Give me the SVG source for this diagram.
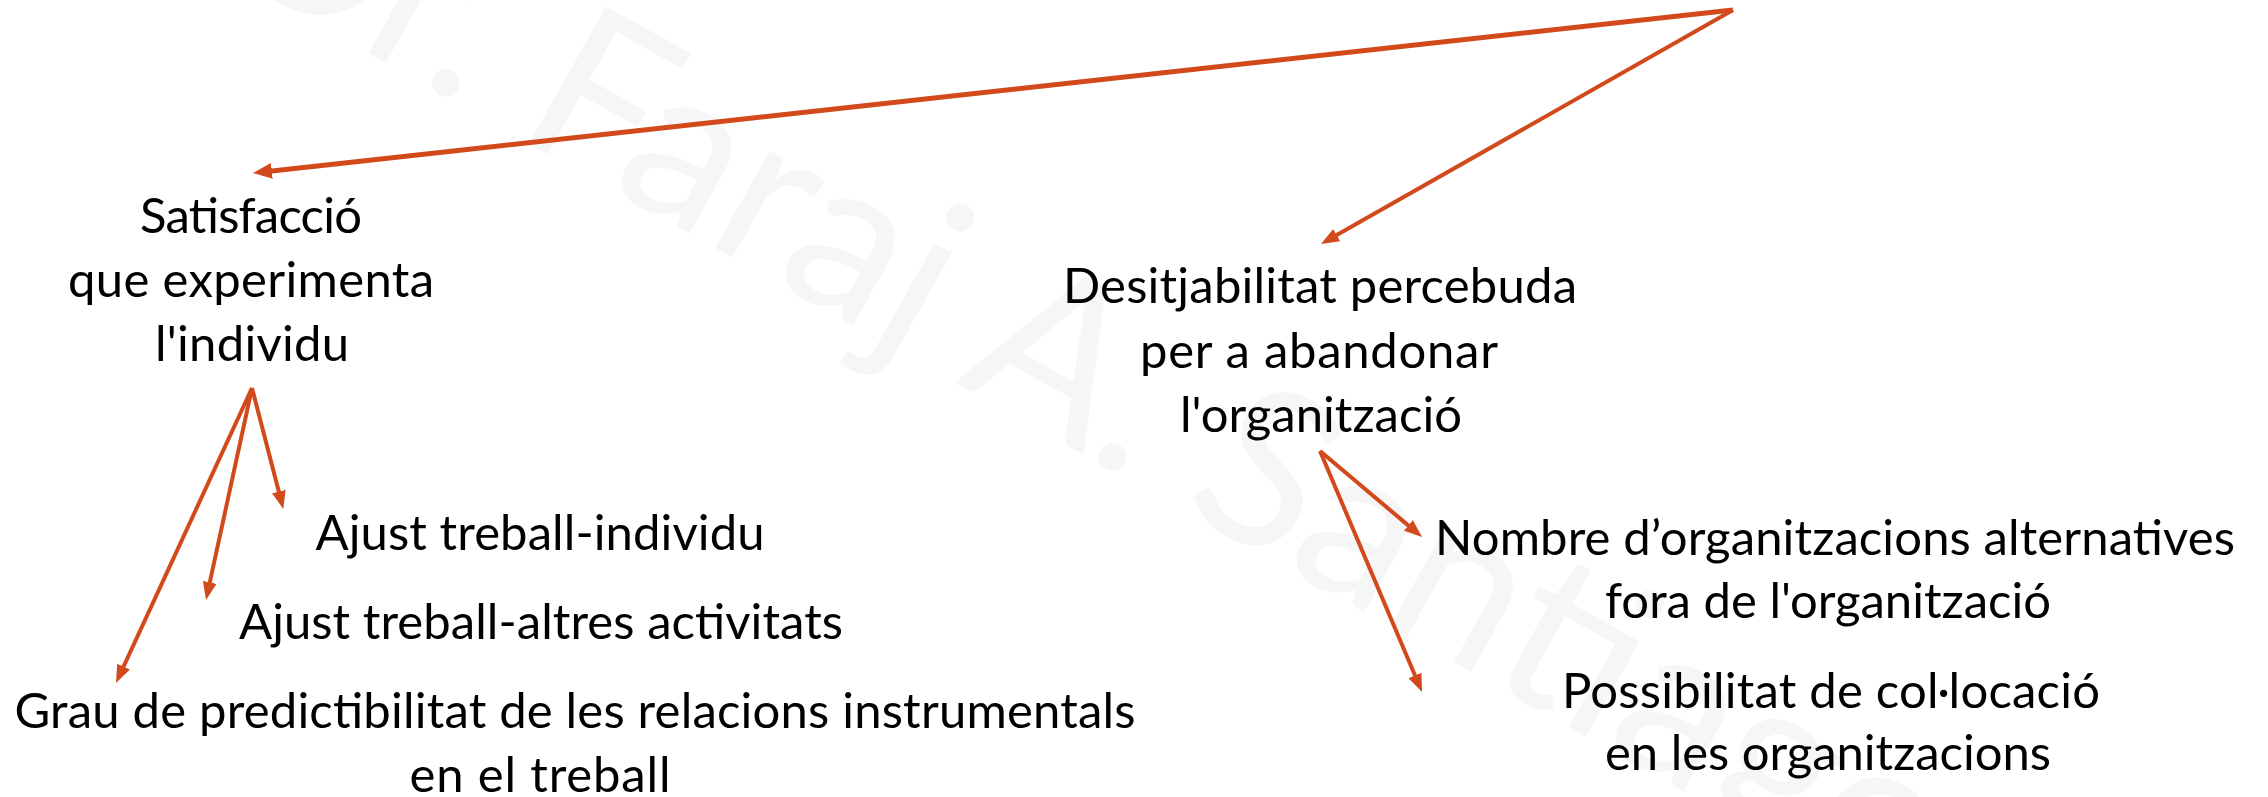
<svg xmlns="http://www.w3.org/2000/svg" width="2268" height="797" viewBox="0 0 2268 797">
<defs>
<style>
.t{font-family:Lato,"Noto Sans",sans-serif;font-size:49px;fill:#000;text-anchor:middle}
.wm{font-family:Lato,"Noto Sans",sans-serif;font-size:220px;fill:#f6f6f6}
.c{fill:none;stroke:#D24A1B;stroke-linecap:butt}
.thick{stroke-width:5;marker-end:url(#ah1)}
.thin{stroke-width:4;marker-end:url(#ah2)}
</style>
<marker id="ah1" markerUnits="userSpaceOnUse" viewBox="0 0 19 16" markerWidth="19" markerHeight="16" refX="9" refY="8" orient="auto"><path d="M0,0 L19,8 L0,16 z" fill="#D24A1B"/></marker>
<marker id="ah2" markerUnits="userSpaceOnUse" viewBox="0 0 18 14" markerWidth="18" markerHeight="14" refX="8" refY="7" orient="auto"><path d="M0,0 L18,7 L0,14 z" fill="#D24A1B"/></marker>
</defs>
<rect width="2268" height="797" fill="#fff"/>
<g id="watermark"><text class="wm" transform="translate(211,-35) rotate(29.3)">Dr. Faraj A. Santiago</text></g>
<g id="connectors">
<path class="c thick" d="M1733,10 L262.9,171.9"/>
<path class="c thin" d="M1733,10 L1329.7,239.1"/>
<path class="c thin" d="M252,388 L280.8,499.3"/>
<path class="c thin" d="M252,388 L208.1,590.2"/>
<path class="c thin" d="M252,388 L120.2,673.9"/>
<path class="c thin" d="M1320,451 L1414.4,530.6"/>
<path class="c thin" d="M1320,451 L1418.1,682.8"/>
</g>
<g id="satisfaccio"><text class="t"><tspan x="251" y="233" textLength="222">Satisfacció</tspan><tspan x="251" y="297" textLength="366">que experimenta</tspan><tspan x="252" y="361" textLength="194">l'individu</tspan></text></g>
<g id="desitjabilitat"><text class="t"><tspan x="1320" y="303" textLength="514">Desitjabilitat percebuda</tspan><tspan x="1319" y="368" textLength="358">per a abandonar</tspan><tspan x="1321" y="432" textLength="282">l'organització</tspan></text></g>
<g id="ajust-individu"><text class="t" x="540" y="550" textLength="449">Ajust treball-individu</text></g>
<g id="ajust-altres"><text class="t" x="541" y="639" textLength="604">Ajust treball-altres activitats</text></g>
<g id="grau"><text class="t"><tspan x="575" y="728" textLength="1121">Grau de predictibilitat de les relacions instrumentals</tspan><tspan x="540" y="792" textLength="261">en el treball</tspan></text></g>
<g id="nombre"><text class="t"><tspan x="1835" y="555" textLength="800">Nombre d’organitzacions alternatives</tspan><tspan x="1828" y="618" textLength="446">fora de l'organització</tspan></text></g>
<g id="possibilitat"><text class="t"><tspan x="1831" y="708" textLength="538">Possibilitat de col·locació</tspan><tspan x="1828" y="770" textLength="446">en les organitzacions</tspan></text></g>
</svg>
